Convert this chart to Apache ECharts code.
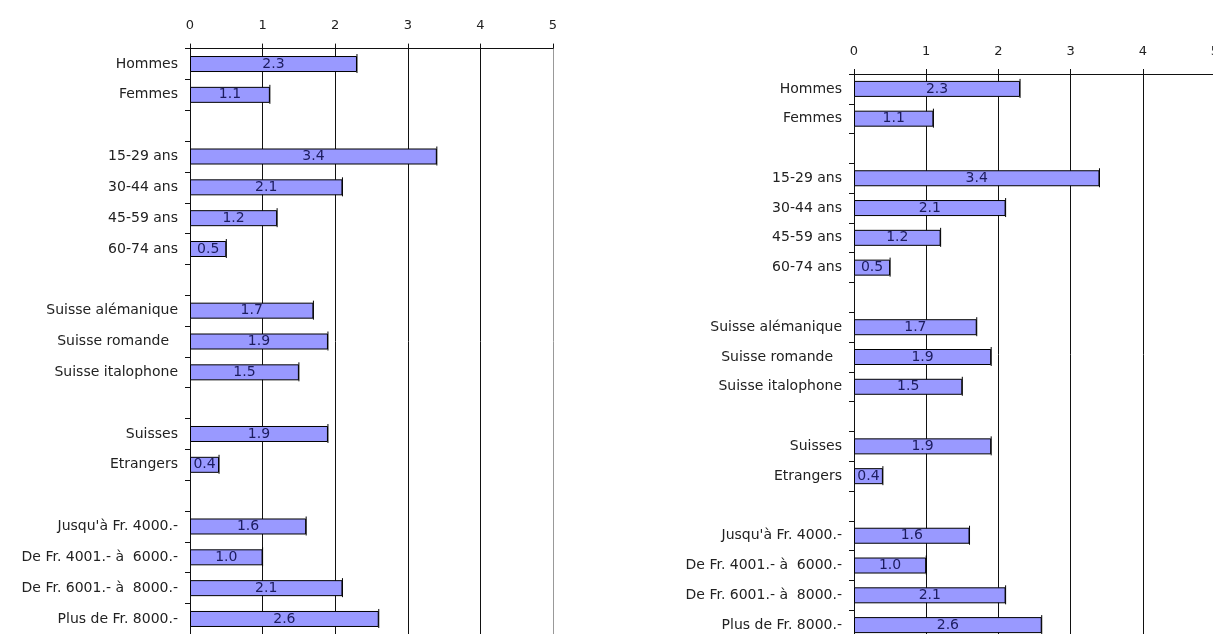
<!DOCTYPE html>
<html>
<head>
<meta charset="utf-8">
<script src="https://cdn.jsdelivr.net/npm/echarts@6/dist/echarts.min.js"></script>
<style>
  html, body { margin: 0; padding: 0; background: #fff; }
  #chart { width: 1213px; height: 634px; }
</style>
</head>
<body>
<div id="chart"></div>
<script>
// Group rows; empty strings are spacer rows between groups
const categories = [
  'Hommes', 'Femmes', '',
  '15-29 ans', '30-44 ans', '45-59 ans', '60-74 ans', '',
  'Suisse alémanique', 'Suisse romande  ', 'Suisse italophone', '',
  'Suisses', 'Etrangers', '',
  "Jusqu'à Fr. 4000.-", 'De Fr. 4001.- à  6000.-', 'De Fr. 6001.- à  8000.-', 'Plus de Fr. 8000.-'
];
const values = [
  2.3, 1.1, null,
  3.4, 2.1, 1.2, 0.5, null,
  1.7, 1.9, 1.5, null,
  1.9, 0.4, null,
  1.6, 1.0, 2.1, 2.6
];
const xTicks = [0, 1, 2, 3, 4, 5];

const FONT = 'DejaVu Sans';
const BAR_FILL = '#9999ff';
const LABEL_INK = '#1c1c5e';

// Two identical panels
const panels = [
  { left: 190, top: 48.6, width: 363, height: 585.8 },
  { left: 854, top: 74, width: 361, height: 566 }
];

const capData = values.map((v, i) => (v == null ? null : [v, i])).filter(d => d);

const option = {
  backgroundColor: '#ffffff',
  animation: false,
  grid: panels.map(p => ({
    left: p.left, top: p.top, width: p.width, height: p.height,
    outerBoundsMode: 'none', containLabel: false
  })),
  xAxis: panels.map((p, k) => ({
    type: 'value',
    gridIndex: k,
    position: 'top',
    min: xTicks[0],
    max: xTicks[xTicks.length - 1],
    interval: 1,
    axisLine: { show: true, lineStyle: { color: '#111', width: 1 } },
    axisTick: { show: true, length: 5, lineStyle: { color: '#111' } },
    axisLabel: { margin: 16, color: '#222', fontFamily: FONT, fontSize: 13 },
    splitLine: {
      show: true,
      lineStyle: { color: ['#111', '#111', '#111', '#111', '#111', '#999'], width: 1 }
    }
  })),
  yAxis: panels.map((p, k) => ({
    type: 'category',
    gridIndex: k,
    inverse: true,
    data: categories,
    axisLine: { show: true, lineStyle: { color: '#111', width: 1 } },
    axisTick: { show: true, length: 5, inside: false, interval: 0, lineStyle: { color: '#111' } },
    axisLabel: { margin: 12, interval: 0, color: '#222', fontFamily: FONT, fontSize: 14 },
    splitLine: { show: false }
  })),
  series: panels.map((p, k) => ({
    type: 'bar',
    xAxisIndex: k,
    yAxisIndex: k,
    data: values,
    barWidth: 16,
    itemStyle: { color: BAR_FILL, borderColor: '#000', borderWidth: 1 },
    label: {
      show: true,
      position: 'inside',
      color: LABEL_INK,
      fontFamily: FONT,
      fontSize: 14,
      formatter: d => d.value == null ? '' : Number(d.value).toFixed(1)
    }
  })).concat(panels.map((p, k) => ({
    // thin end marks at each bar tip
    type: 'custom',
    xAxisIndex: k,
    yAxisIndex: k,
    data: capData,
    encode: { x: 0, y: 1 },
    z: 3,
    renderItem: (params, api) => {
      const pt = api.coord([api.value(0), api.value(1)]);
      return {
        type: 'line',
        shape: { x1: pt[0], y1: pt[1] - 10, x2: pt[0], y2: pt[1] + 9 },
        style: { stroke: '#000', lineWidth: 1 }
      };
    }
  })))
};

const chart = echarts.init(document.getElementById('chart'), null, { renderer: 'canvas' });
chart.setOption(option);
</script>
</body>
</html>
